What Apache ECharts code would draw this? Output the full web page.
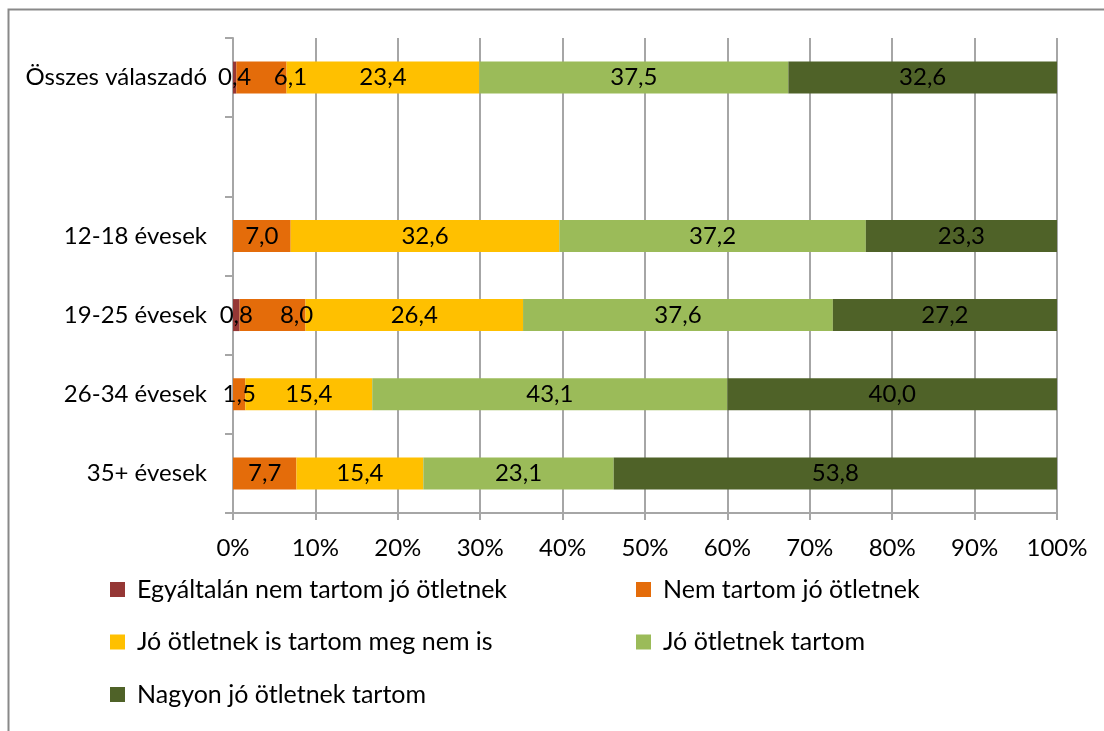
<!DOCTYPE html>
<html>
<head>
<meta charset="utf-8">
<script src="https://cdn.jsdelivr.net/npm/echarts@6/dist/echarts.min.js"></script>
<style>
  html, body { margin: 0; padding: 0; background: #ffffff; }
  #chart { width: 1104px; height: 731px; }
</style>
</head>
<body>
<div id="chart"></div>
<script>
// Age groups (the empty entry leaves a gap below the overall row)
const categories = ['Összes válaszadó', '', '12-18 évesek', '19-25 évesek', '26-34 évesek', '35+ évesek'];

// Answer options, in stacking order
const seriesNames = [
  'Egyáltalán nem tartom jó ötletnek',
  'Nem tartom jó ötletnek',
  'Jó ötletnek is tartom meg nem is',
  'Jó ötletnek tartom',
  'Nagyon jó ötletnek tartom'
];

// Percentages per age group (null = no answer in that group)
const notAtAll   = [0.4, null, null, 0.8, null, null];
const notGood    = [6.1, null, 7.0, 8.0, 1.5, 7.7];
const neutral    = [23.4, null, 32.6, 26.4, 15.4, 15.4];
const good       = [37.5, null, 37.2, 37.6, 43.1, 23.1];
const veryGood   = [32.6, null, 23.3, 27.2, 40.0, 53.8];

const xTicks = [0, 10, 20, 30, 40, 50, 60, 70, 80, 90, 100];

const colors = ['#953735', '#E46C0A', '#FFC000', '#9BBB59', '#4F6228'];
const FONT = 'Lato, "Open Sans", sans-serif';
const FS = 24;
const GRAY = '#a6a6a6';

// labels nudged right so they clear the tiny neighbouring segment
const labelShift = { '1-0': 29, '1-3': 24 };

const allValues = [notAtAll, notGood, neutral, good, veryGood];

const series = allValues.map((vals, si) => ({
  name: seriesNames[si],
  type: 'bar',
  stack: 'total',
  barWidth: 32,
  itemStyle: { color: colors[si] },
  label: {
    show: true,
    position: 'inside',
    color: '#000',
    fontFamily: FONT,
    fontSize: FS,
    formatter: p => (p.value == null ? '' : Number(p.value).toFixed(1).replace('.', ','))
  },
  data: vals.map((v, ci) => {
    const shift = labelShift[si + '-' + ci];
    if (shift && v != null) {
      return { value: v, label: { offset: [shift, 0] } };
    }
    return v;
  })
}));

const chart = echarts.init(document.getElementById('chart'), null, { renderer: 'canvas' });

const legendText = { color: '#000', fontFamily: FONT, fontSize: 25, lineHeight: 24, padding: [0, 0, 0, 7] };

chart.setOption({
  animation: false,
  backgroundColor: '#ffffff',
  graphic: [{
    type: 'rect',
    left: 6, top: 7,
    shape: { width: 1200, height: 800 },
    style: { fill: 'none', stroke: '#898989', lineWidth: 2 },
    silent: true
  }],
  grid: { left: 233, right: 47, top: 38, bottom: 218 },
  xAxis: {
    type: 'value',
    min: xTicks[0],
    max: xTicks[xTicks.length - 1],
    interval: xTicks[1] - xTicks[0],
    axisLine: { show: true, lineStyle: { color: GRAY, width: 2 } },
    axisTick: { show: true, length: 7, lineStyle: { color: GRAY, width: 2 } },
    splitLine: { show: true, lineStyle: { color: GRAY, width: 2 } },
    axisLabel: {
      formatter: '{value}%',
      color: '#000',
      fontFamily: FONT,
      fontSize: FS,
      margin: 23
    }
  },
  yAxis: {
    type: 'category',
    inverse: true,
    data: categories,
    axisLine: { show: true, lineStyle: { color: GRAY, width: 2 } },
    axisTick: { show: true, length: 8, lineStyle: { color: GRAY, width: 2 } },
    axisLabel: {
      color: '#000',
      fontFamily: FONT,
      fontSize: FS,
      margin: 26
    }
  },
  legend: [
    {
      data: [seriesNames[0], seriesNames[2], seriesNames[4]],
      orient: 'vertical',
      left: 105,
      top: 572,
      itemWidth: 15,
      itemHeight: 15,
      itemGap: 27.5,
      icon: 'rect',
      selectedMode: false,
      textStyle: legendText
    },
    {
      data: [seriesNames[1], seriesNames[3]],
      orient: 'vertical',
      left: 631,
      top: 572,
      itemWidth: 15,
      itemHeight: 15,
      itemGap: 27.5,
      icon: 'rect',
      selectedMode: false,
      textStyle: legendText
    }
  ],
  series: series
});
</script>
</body>
</html>
